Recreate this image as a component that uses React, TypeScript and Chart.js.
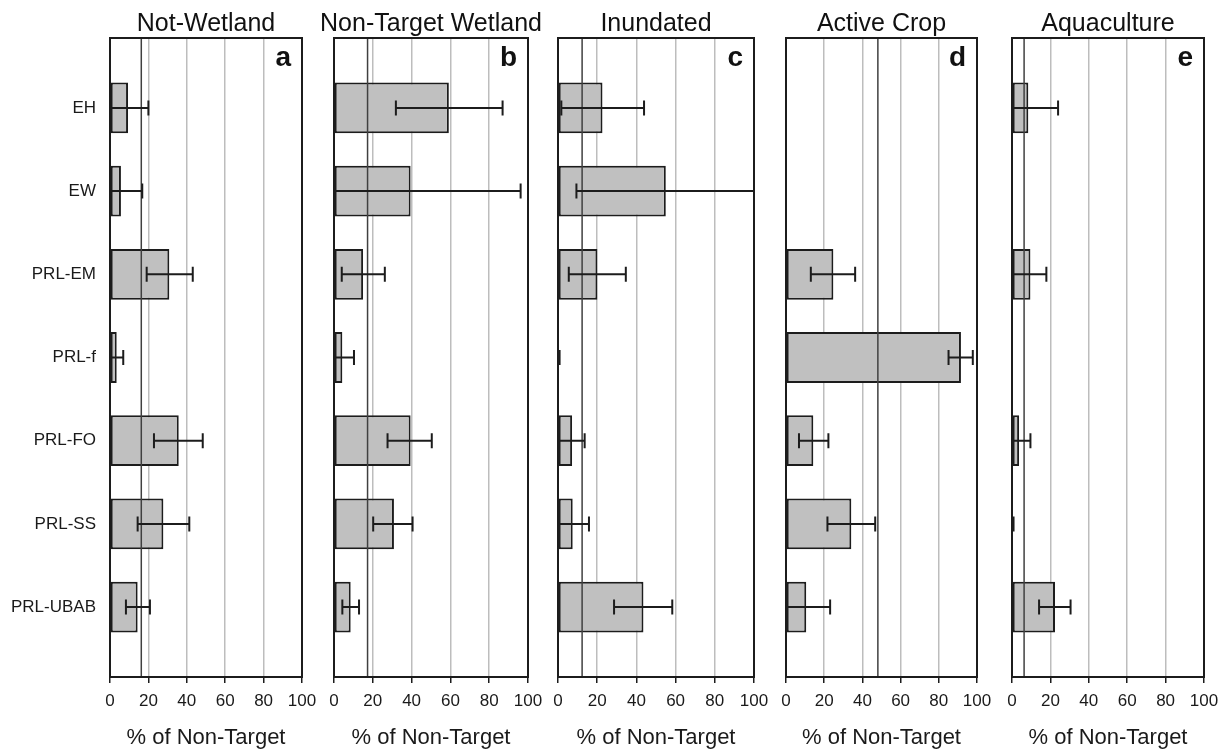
import React, { useEffect, useRef } from "react";
import { Chart, registerables } from "chart.js";

Chart.register(...registerables);

// ---- data ----
const categories = ["EH", "EW", "PRL-EM", "PRL-f", "PRL-FO", "PRL-SS", "PRL-UBAB"];
const panelTitles = ["Not-Wetland", "Non-Target Wetland", "Inundated", "Active Crop", "Aquaculture"];
const panelLetters = ["a", "b", "c", "d", "e"];
const xTickValues = [0, 20, 40, 60, 80, 100];
const xAxisTitle = "% of Non-Target";

const notWetland = [9.4, 5.7, 30.9, 3.5, 35.8, 27.8, 14.4];
const notWetlandLow = [0, 0, 19.1, 0.5, 22.9, 14.4, 8.3];
const notWetlandHigh = [20.0, 16.8, 43.1, 6.9, 48.3, 41.3, 20.8];

const nonTargetWetland = [59.2, 39.5, 15.0, 4.3, 39.5, 30.9, 8.6];
const nonTargetWetlandLow = [31.9, 0, 4.0, 0, 27.6, 20.2, 4.3];
const nonTargetWetlandHigh = [86.9, 96.2, 26.2, 10.3, 50.4, 40.5, 12.9];

const inundated = [22.7, 55.0, 20.1, 0, 7.2, 7.5, 43.6];
const inundatedLow = [1.7, 9.4, 5.5, 0, 0.5, 0, 28.6];
const inundatedHigh = [43.9, 100, 34.6, 0.8, 13.6, 15.8, 58.3];

const activeCrop = [null, null, 24.8, 91.6, 14.3, 34.2, 10.6];
const activeCropLow = [null, null, 13.0, 85.1, 6.8, 21.7, 0];
const activeCropHigh = [null, null, 36.2, 97.8, 22.2, 46.7, 23.1];

const aquaculture = [8.5, null, 9.6, null, 3.7, 0, 22.4];
const aquacultureLow = [0, null, 0.5, null, 0, 0, 14.1];
const aquacultureHigh = [24.0, null, 17.9, null, 9.6, 0.8, 30.5];

const meanLines = [16.3, 17.3, 12.3, 48.1, 6.3];

const panelValues = [notWetland, nonTargetWetland, inundated, activeCrop, aquaculture];
const panelLows = [notWetlandLow, nonTargetWetlandLow, inundatedLow, activeCropLow, aquacultureLow];
const panelHighs = [notWetlandHigh, nonTargetWetlandHigh, inundatedHigh, activeCropHigh, aquacultureHigh];

// ---- layout (pixel boxes of the plot areas) ----
const W = 1229;
const H = 752;
const PLOT_TOP = 38;
const X_AXIS_H = 75;
const PANEL_LEFT = [110, 334, 558, 786, 1012];
const PANEL_RIGHT = [302, 528, 754, 977, 1204];
const FONT = "'Liberation Sans', Arial, Helvetica, sans-serif";
const INK = "#1c1c1c";

function makeDecor(p: number) {
  return {
    id: "decor" + p,
    afterDatasetsDraw(chart: any) {
      const { ctx, chartArea: a, scales } = chart;
      const xs = scales.x;
      const ys = scales.y;
      ctx.save();
      // mean line
      const mx = xs.getPixelForValue(meanLines[p]);
      ctx.strokeStyle = "#404040";
      ctx.lineWidth = 1.5;
      ctx.beginPath();
      ctx.moveTo(mx, a.top);
      ctx.lineTo(mx, a.bottom);
      ctx.stroke();
      // error bars
      const lo = panelLows[p];
      const hi = panelHighs[p];
      ctx.strokeStyle = INK;
      ctx.lineWidth = 2;
      for (let i = 0; i < categories.length; i++) {
        if (lo[i] == null || hi[i] == null) continue;
        const y = ys.getPixelForValue(i);
        const x1 = xs.getPixelForValue(Math.max(lo[i] as number, 0));
        const x2 = xs.getPixelForValue(Math.min(hi[i] as number, 100));
        ctx.beginPath();
        ctx.moveTo(x1, y);
        ctx.lineTo(x2, y);
        ctx.moveTo(x1, y - 7.5);
        ctx.lineTo(x1, y + 7.5);
        ctx.moveTo(x2, y - 7.5);
        ctx.lineTo(x2, y + 7.5);
        ctx.stroke();
      }
      // frame
      ctx.lineWidth = 2;
      ctx.strokeStyle = INK;
      ctx.strokeRect(a.left, a.top, a.right - a.left, a.bottom - a.top);
      // titles
      ctx.fillStyle = "#111";
      ctx.font = "25px " + FONT;
      ctx.textAlign = "center";
      ctx.textBaseline = "alphabetic";
      ctx.fillText(panelTitles[p], (a.left + a.right) / 2, 31);
      ctx.font = "bold 28px " + FONT;
      ctx.textAlign = "right";
      ctx.fillText(panelLetters[p], a.right - 11, 66);
      ctx.restore();
    },
  };
}

function Panel({ p }: { p: number }) {
  const ref = useRef<HTMLCanvasElement | null>(null);
  useEffect(() => {
    if (!ref.current) return;
    const values = panelValues[p];
    const chart = new Chart(ref.current, {
      type: "bar",
      data: {
        datasets: [
          {
            data: values.map((v, i) => ({ x: v, y: i })) as any,
            backgroundColor: "#c0c0c0",
            borderColor: INK,
            borderWidth: 2,
            borderSkipped: false,
            categoryPercentage: 1,
            barPercentage: 0.61,
          },
        ],
      },
      options: {
        indexAxis: "y",
        responsive: false,
        animation: false,
        events: [],
        layout: {
          padding: {
            left: p === 0 ? 0 : PANEL_LEFT[p],
            right: W - PANEL_RIGHT[p],
            top: PLOT_TOP,
            bottom: 0,
          },
        },
        plugins: {
          legend: { display: false },
          tooltip: { enabled: false },
          title: { display: false },
        },
        scales: {
          x: {
            type: "linear",
            min: 0,
            max: 100,
            offset: false,
            afterBuildTicks: (s: any) => {
              s.ticks = xTickValues.map((v) => ({ value: v }));
            },
            afterFit: (s: any) => {
              s.height = X_AXIS_H;
            },
            border: { display: false },
            grid: {
              color: (c: any) =>
                c.tick && (c.tick.value === 0 || c.tick.value === 100) ? "rgba(0,0,0,0)" : "#bdbdbd",
              lineWidth: 1.5,
              drawTicks: true,
              tickLength: 6,
              tickColor: INK,
              tickWidth: 1.5,
            },
            ticks: {
              color: "#1a1a1a",
              font: { family: FONT, size: 17 },
              padding: 8,
              maxRotation: 0,
              autoSkip: false,
            },
            title: {
              display: true,
              text: xAxisTitle,
              color: "#1a1a1a",
              font: { family: FONT, size: 22 },
              padding: { top: 0, bottom: 1 },
            },
          },
          y: {
            type: "linear",
            reverse: true,
            offset: false,
            min: -0.84,
            max: categories.length - 1 + 0.84,
            display: p === 0,
            afterBuildTicks: (s: any) => {
              s.ticks = categories.map((_, i) => ({ value: i }));
            },
            afterFit: (s: any) => {
              if (p === 0) s.width = PANEL_LEFT[0];
            },
            border: { display: false },
            grid: { display: false, drawTicks: false },
            ticks: {
              color: "#1a1a1a",
              font: { family: FONT, size: 17 },
              padding: 14,
              autoSkip: false,
              callback: (v: any) => categories[v as number] ?? "",
            },
          },
        },
      },
      plugins: [makeDecor(p)],
    } as any);
    return () => chart.destroy();
  }, [p]);
  return (
    <canvas
      ref={ref}
      width={W}
      height={H}
      style={{ position: "absolute", left: 0, top: 0, width: W, height: H }}
    />
  );
}

export default function App() {
  return (
    <div style={{ position: "absolute", left: 0, top: 0, width: W, height: H, background: "#fff" }}>
      {panelTitles.map((_, p) => (
        <Panel key={p} p={p} />
      ))}
    </div>
  );
}
